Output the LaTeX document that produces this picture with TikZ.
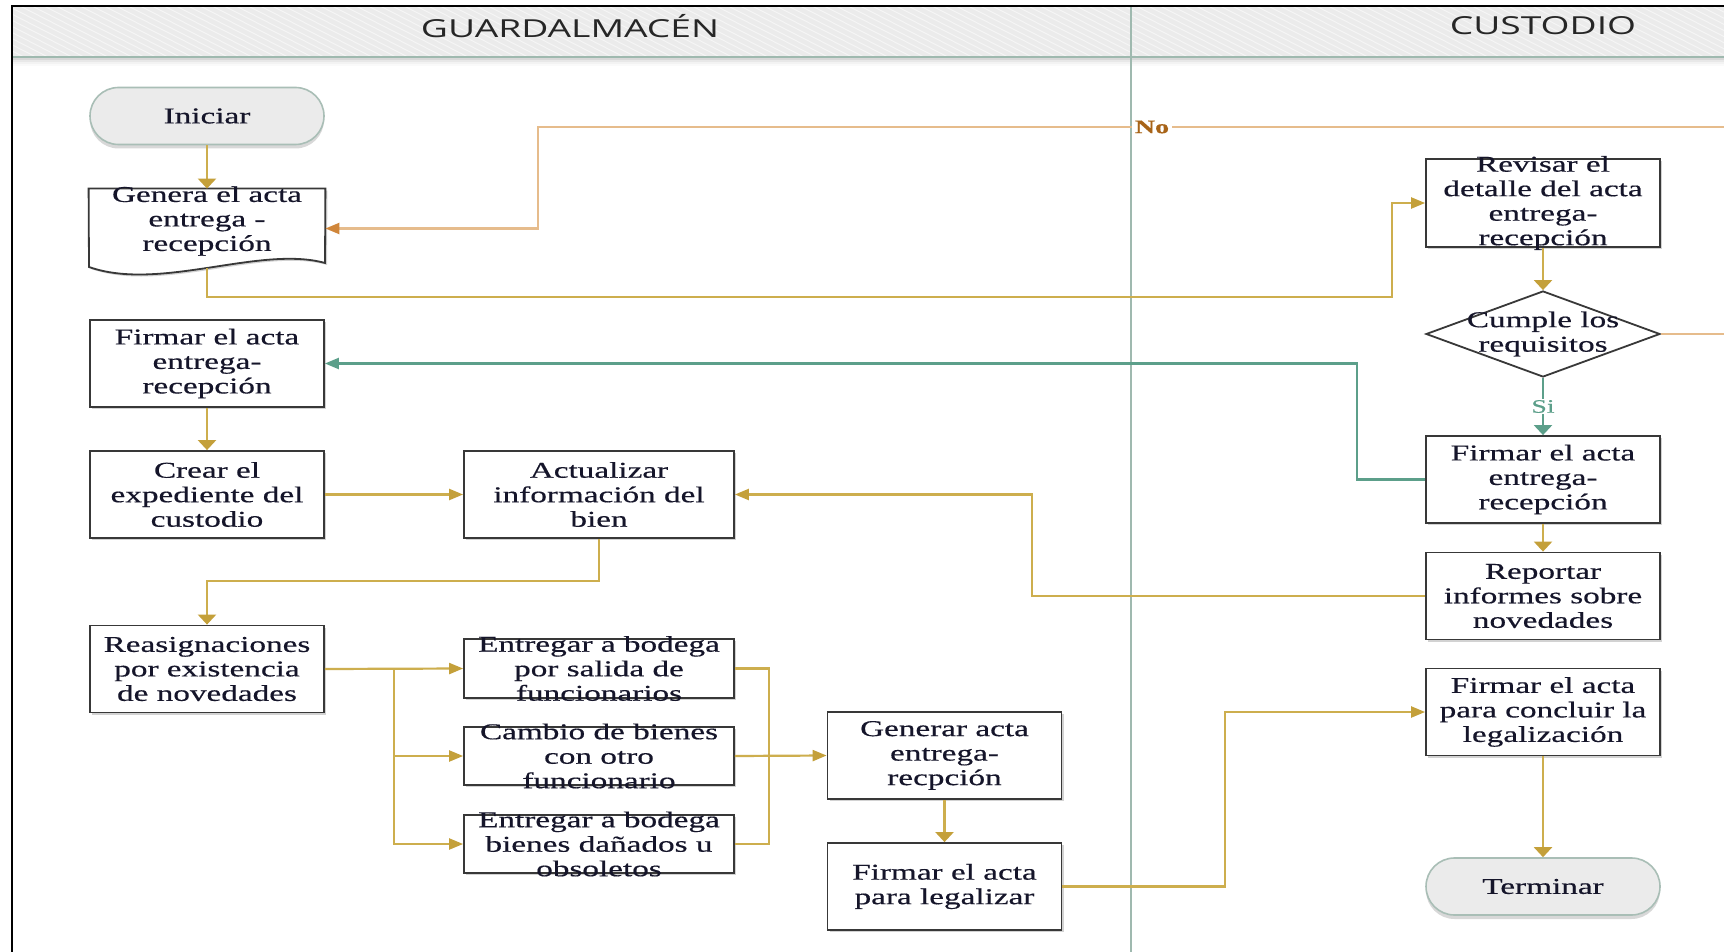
\documentclass[tikz,border=0pt]{standalone}
\usepackage{fontspec}
\setmainfont{Liberation Serif}[FakeStretch=1.47,FakeBold=0.5]
\newfontfamily\hdrfont{Open Sans}[FakeStretch=1.5]
\usetikzlibrary{arrows.meta,shapes.geometric,shapes.misc,shadows}
\definecolor{gold}{HTML}{CDAE4E}
\definecolor{golddk}{HTML}{C4A03A}
\definecolor{grn}{HTML}{5C9F8A}
\definecolor{orl}{HTML}{E6BC8C}
\definecolor{ord}{HTML}{D0863A}
\definecolor{lanec}{HTML}{9FB9AF}
\definecolor{hdrfill}{HTML}{EBEBEB}
\definecolor{termdraw}{HTML}{A9BEB6}
\definecolor{boxdraw}{HTML}{383838}
\definecolor{txtc}{HTML}{15152A}
\definecolor{noc}{HTML}{A86418}
\begin{document}
\begin{tikzpicture}[x=0.5pt,y=-0.5pt,
  shd/.style={drop shadow={shadow xshift=1pt,shadow yshift=-1pt,opacity=0.35,fill=gray}},
  box/.style={draw=boxdraw,line width=0.9pt,fill=white,rectangle,inner sep=0pt,
    minimum width=117pt,minimum height=43.5pt,shd},
  sbox/.style={box,minimum width=135pt,minimum height=29.5pt},
  term/.style={draw=termdraw,line width=0.8pt,fill=hdrfill,rounded rectangle,inner sep=0pt,
    minimum width=117pt,minimum height=28.5pt,drop shadow={shadow xshift=0pt,shadow yshift=-2pt,opacity=0.3,fill=gray}},
  txt/.style={align=center,inner sep=0pt,text=txtc,font=\fontsize{11.3}{12.25}\selectfont},
  hdr/.style={inner sep=0pt,text=black!85,font=\hdrfont\fontsize{12.4}{14}\selectfont},
  gl/.style={draw=gold,line width=1.1pt},
  gn/.style={draw=grn,line width=1.1pt},
  av/.style={-{Triangle[length=5pt,width=9pt,color=golddk]}},
  ah/.style={-{Triangle[length=7pt,width=5.5pt,color=golddk]}},
  gav/.style={-{Triangle[length=5pt,width=9pt,color=grn]}},
  gah/.style={-{Triangle[length=7pt,width=5.5pt,color=grn]}},
  oah/.style={-{Triangle[length=7pt,width=5.5pt,color=ord]}},
]
\useasboundingbox (0,0) rectangle (1724,952);
\clip (0,0) rectangle (1724,952);
\fill[white] (0,0) rectangle (1724,952);
% header band
\fill[hdrfill] (12,6) rectangle (1724,57);
\begin{scope}
\clip (12,6) rectangle (1724,57);
\foreach \i in {-100,-88,...,1724} \draw[white,opacity=0.5,line width=0.5pt] (\i,6) -- (\i+100,57);
\end{scope}
\foreach \k/\o in {59/0.30,61/0.18,63/0.09,65/0.04} \draw[gray,opacity=\o,line width=1pt] (12,\k) -- (1724,\k);
\draw[lanec,line width=1pt] (12,57) -- (1724,57);
\draw[lanec,line width=1.1pt] (1131,6) -- (1131,952);
\draw[black,line width=1.2pt] (12,952) -- (12,6) -- (1724,6);
\node[hdr] (h1) at (570,26) {GUARDALMACÉN};
\node[hdr] (h2) at (1543,26) {CUSTODIO};
% left lane nodes
\node[term] (ini) at (207,116) {};
\node[txt] (init) at (ini) {Iniciar};
\node[inner sep=0pt,minimum width=118pt,minimum height=39.5pt] (gen) at (207,228.5) {};
\draw[boxdraw,line width=0.9pt,fill=white,shd] (gen.north west) -- (gen.north east) -- (325,263)
  .. controls (260,245) and (160,292) .. (89,267) -- cycle;
\node[txt] (gent) at (207,221) {Genera el acta\\entrega -\\recepción};
\node[box] (fir1) at (207,363.5) {};
\node[txt] (fir1t) at (fir1) {Firmar el acta\\entrega-\\recepción};
\node[box] (cre) at (207,494.5) {};
\node[txt] (cret) at (cre) {Crear el\\expediente del\\custodio};
\node[box,minimum width=135pt] (act) at (599,494.5) {};
\node[txt] (actt) at (act) {Actualizar\\información del\\bien};
\node[box] (rea) at (207,669) {};
\node[txt] (reat) at (rea) {Reasignaciones\\por existencia\\de novedades};
\node[sbox] (e1) at (599,668.5) {};
\node[txt] (e1t) at (e1) {Entregar a bodega\\por salida de\\funcionarios};
\node[sbox,minimum height=29pt] (cam) at (599,756) {};
\node[txt] (camt) at (cam) {Cambio de bienes\\con otro\\funcionario};
\node[sbox,minimum height=29pt] (e2) at (599,844) {};
\node[txt] (e2t) at (e2) {Entregar a bodega\\bienes dañados u\\obsoletos};
\node[box] (gen2) at (944.5,755.5) {};
\node[txt] (gen2t) at (gen2) {Generar acta\\entrega-\\recpción};
\node[box] (fl) at (944.5,886.5) {};
\node[txt] (flt) at (fl) {Firmar el acta\\para legalizar};
% right lane nodes
\node[box,minimum height=44pt] (rev) at (1543,203) {};
\node[txt] (revt) at (rev) {Revisar el\\detalle del  acta\\entrega-\\recepción};
\node[draw=boxdraw,line width=0.9pt,fill=white,diamond,inner sep=0pt,minimum width=117pt,minimum height=43pt] (dia) at (1543,334) {};
\node[txt] (diat) at (dia) {Cumple los\\requisitos};
\node[box] (fir2) at (1543,479.5) {};
\node[txt] (fir2t) at (fir2) {Firmar el acta\\entrega-\\recepción};
\node[box] (rep) at (1543,596) {};
\node[txt] (rept) at (rep) {Reportar\\informes sobre\\novedades};
\node[box] (fc) at (1543,712) {};
\node[txt] (fct) at (fc) {Firmar el acta\\para concluir la\\legalización};
\node[term] (ter) at (1543,886.5) {};
\node[txt] (tert) at (ter) {Terminar};
% connectors
\draw[gl,av] (ini.south) -- (gen.north);
\draw[gl,ah] (gen.south) -- (207,297) -| (1392,203) -- (rev.west);
\draw[gl,av] (rev.south) -- (dia.north);
\draw[draw=orl,line width=1.1pt,oah] (dia.east) -- (1760,334) -- (1760,127) -- (538,127) |- (gen.east);
\node[fill=white,inner sep=1.5pt,text=noc,font=\bfseries\fontsize{9.5}{11}\selectfont] (no) at (1152,127) {No};
\draw[gn,gav] (dia.south) -- (fir2.north) node[pos=0.5,fill=white,inner sep=0.5pt,text=grn,font=\fontsize{9.5}{11}\selectfont] (si) {Si};
\draw[gn,gah] (fir2.west) -- (1357,479.5) |- (fir1.east);
\draw[gl,av] (fir1.south) -- (cre.north);
\draw[gl,ah] (cre.east) -- (act.west);
\draw[gl,av] (fir2.south) -- (rep.north);
\draw[gl,ah] (rep.west) -- (1032,596) |- (act.east);
\draw[gl,av] (act.south) -- (599,581) -| (rea.north);
\draw[gl,ah] (rea.east) -- (e1.west);
\coordinate (j1) at (394,669);
\draw[gl,ah] (j1) |- (cam.west);
\draw[gl,ah] (j1) |- (e2.west);
\draw[gl] (e1.east) -| (769,756);
\draw[gl] (e2.east) -| (769,756);
\draw[gl,ah] (cam.east) -- (gen2.west);
\draw[gl,av] (gen2.south) -- (fl.north);
\draw[gl,ah] (fl.east) -- (1225,886.5) |- (fc.west);
\draw[gl,av] (fc.south) -- (ter.north);
\end{tikzpicture}
\end{document}
